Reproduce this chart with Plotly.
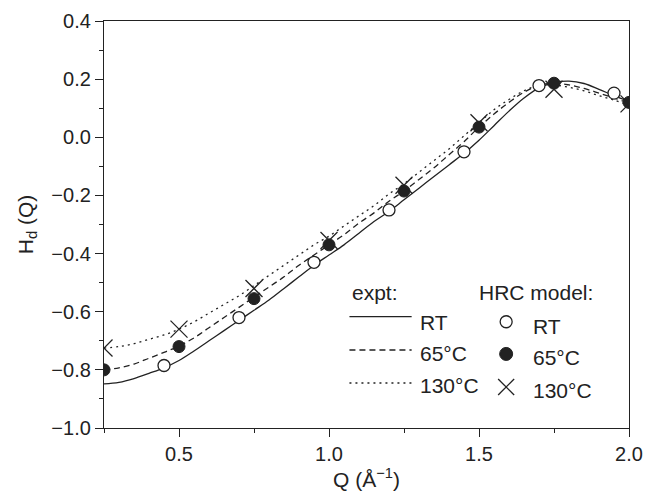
import plotly.graph_objects as go

# ---------------- data ----------------
q_curve = [0.25, 0.30, 0.35, 0.40, 0.45, 0.50, 0.55, 0.60, 0.65, 0.70, 0.75, 0.80,
           0.85, 0.90, 0.95, 1.00, 1.05, 1.10, 1.15, 1.20, 1.25, 1.30, 1.35, 1.40,
           1.45, 1.50, 1.55, 1.60, 1.65, 1.70, 1.75, 1.80, 1.85, 1.90, 1.95, 2.00]

expt_rt = [-0.848, -0.843, -0.830, -0.812, -0.793, -0.768, -0.735, -0.700, -0.665,
           -0.630, -0.595, -0.560, -0.520, -0.480, -0.440, -0.405, -0.370, -0.330,
           -0.290, -0.255, -0.215, -0.175, -0.135, -0.095, -0.055, -0.010, 0.040,
           0.090, 0.135, 0.170, 0.188, 0.193, 0.185, 0.165, 0.143, 0.123]

expt_65 = [-0.800, -0.793, -0.780, -0.760, -0.740, -0.718, -0.690, -0.655, -0.620,
           -0.585, -0.550, -0.515, -0.480, -0.440, -0.405, -0.370, -0.335, -0.295,
           -0.260, -0.220, -0.185, -0.145, -0.105, -0.060, -0.015, 0.035, 0.080,
           0.120, 0.155, 0.178, 0.186, 0.180, 0.168, 0.152, 0.135, 0.118]

expt_130 = [-0.725, -0.720, -0.710, -0.695, -0.680, -0.660, -0.635, -0.605, -0.575,
            -0.545, -0.510, -0.475, -0.440, -0.405, -0.370, -0.340, -0.305, -0.270,
            -0.235, -0.195, -0.160, -0.120, -0.080, -0.040, 0.005, 0.050, 0.095,
            0.130, 0.160, 0.178, 0.180, 0.172, 0.160, 0.143, 0.128, 0.110]

q_model_rt = [0.45, 0.70, 0.95, 1.20, 1.45, 1.70, 1.95]
model_rt = [-0.785, -0.620, -0.430, -0.250, -0.050, 0.178, 0.152]

q_model = [0.25, 0.50, 0.75, 1.00, 1.25, 1.50, 1.75, 2.00]
model_65 = [-0.800, -0.720, -0.555, -0.370, -0.185, 0.035, 0.186, 0.120]
model_130 = [-0.725, -0.660, -0.520, -0.355, -0.165, 0.050, 0.165, 0.115]

legend_labels = ["RT", "65°C", "130°C"]
y_ticks = [-1.0, -0.8, -0.6, -0.4, -0.2, 0.0, 0.2, 0.4]
x_ticks = [0.5, 1.0, 1.5, 2.0]

# ---------------- figure ----------------
INK = "#222222"
FONT = "Liberation Sans, Arial, Helvetica, sans-serif"

fig = go.Figure()
dashes = ["solid", "6px,4px", "2px,4px"]
for ys, dash in zip([expt_rt, expt_65, expt_130], dashes):
    fig.add_trace(go.Scatter(x=q_curve, y=ys, mode="lines", line_shape="spline",
                             line=dict(color=INK, width=1.3, dash=dash),
                             showlegend=False, hoverinfo="skip"))

fig.add_trace(go.Scatter(x=q_model_rt, y=model_rt, mode="markers", showlegend=False,
                         marker=dict(symbol="circle", size=12, color="white",
                                     line=dict(color=INK, width=1.3))))
fig.add_trace(go.Scatter(x=q_model, y=model_65, mode="markers", showlegend=False,
                         marker=dict(symbol="circle", size=12, color=INK,
                                     line=dict(color=INK, width=1))))
fig.add_trace(go.Scatter(x=q_model, y=model_130, mode="markers", showlegend=False,
                         marker=dict(symbol="x-thin-open", size=17, color=INK,
                                     line=dict(color=INK, width=1.3))))

# ---------------- manual legend ----------------
LFONT = dict(size=21, color=INK, family=FONT)
ann = []
shapes = []
ann.append(dict(x=0.469, y=0.332, xref="paper", yref="paper", text="expt:",
                showarrow=False, xanchor="left", yanchor="middle", font=LFONT))
ann.append(dict(x=0.710, y=0.332, xref="paper", yref="paper", text="HRC model:",
                showarrow=False, xanchor="left", yanchor="middle", font=LFONT))
line_y = [0.2735, 0.1916, 0.1106]
lab1_y = [0.258, 0.182, 0.104]
mark_y = [0.261, 0.182, 0.1007]
lab2_y = [0.2506, 0.172, 0.0916]
for lab, ly, l1y, l2y, dash in zip(legend_labels, line_y, lab1_y, lab2_y, dashes):
    shapes.append(dict(type="line", xref="paper", yref="paper", x0=0.4675, x1=0.586,
                       y0=ly, y1=ly, line=dict(color=INK, width=1.3, dash=dash)))
    ann.append(dict(x=0.599, y=l1y, xref="paper", yref="paper", text=lab,
                    showarrow=False, xanchor="left", yanchor="middle", font=LFONT))
    ann.append(dict(x=0.813, y=l2y, xref="paper", yref="paper", text=lab,
                    showarrow=False, xanchor="left", yanchor="middle", font=LFONT))

mx = 0.766
shapes.append(dict(type="circle", xref="paper", yref="paper", xsizemode="pixel",
                   ysizemode="pixel", xanchor=mx, yanchor=mark_y[0], x0=-6, x1=6,
                   y0=-6, y1=6, line=dict(color=INK, width=1.3), fillcolor="white"))
shapes.append(dict(type="circle", xref="paper", yref="paper", xsizemode="pixel",
                   ysizemode="pixel", xanchor=mx, yanchor=mark_y[1], x0=-6.5, x1=6.5,
                   y0=-6.5, y1=6.5, line=dict(color=INK, width=1), fillcolor=INK))
for sgn in (1, -1):
    shapes.append(dict(type="line", xref="paper", yref="paper", xsizemode="pixel",
                       ysizemode="pixel", xanchor=mx, yanchor=mark_y[2], x0=-8, x1=8,
                       y0=-8 * sgn, y1=8 * sgn, line=dict(color=INK, width=1.3)))

axis_common = dict(showline=True, linecolor=INK, linewidth=1.3, mirror=True,
                   ticks="outside", ticklen=8, tickwidth=1.3, tickcolor=INK,
                   showgrid=False, zeroline=False, ticklabeloverflow="allow",
                   tickfont=dict(size=20, color=INK, family=FONT))

fig.update_layout(
    width=652, height=498,
    margin=dict(l=104, r=9, t=21, b=70),
    paper_bgcolor="white", plot_bgcolor="white",
    font=dict(family=FONT, size=20, color=INK),
    xaxis=dict(range=[0.25, 2.0], tickvals=x_ticks, ticktext=[f"{v:.1f}" for v in x_ticks],
               minor=dict(ticks="outside", dtick=0.25, tick0=0.25, ticklen=4,
                          tickwidth=1.3, tickcolor=INK),
               title=dict(text="Q (Å<sup>−1</sup>)", font=dict(size=21), standoff=6),
               **axis_common),
    yaxis=dict(range=[-1.0, 0.4], tickvals=y_ticks,
               ticktext=[f"{v:.1f}".replace("-", "−") for v in y_ticks],
               minor=dict(ticks="outside", dtick=0.1, tick0=0, ticklen=4,
                          tickwidth=1.3, tickcolor=INK),
               title=dict(text="H<sub>d</sub> (Q)", font=dict(size=21), standoff=12),
               **axis_common),
    annotations=ann,
    shapes=shapes,
)

fig.write_html("out.html", config={"displayModeBar": False},
               post_script="document.body.style.margin='0';document.body.style.overflow='hidden';")
